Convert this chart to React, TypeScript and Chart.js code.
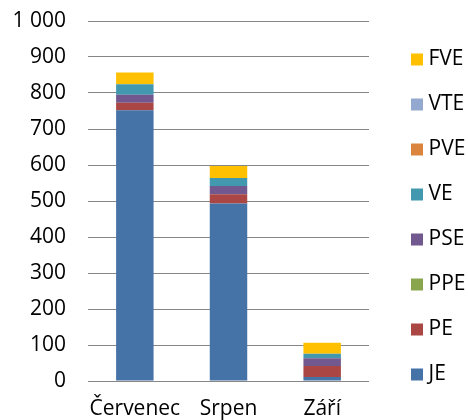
import React, { useEffect, useRef } from "react";
import { Chart, registerables } from "chart.js";

Chart.register(...registerables);

const categories = ["Červenec", "Srpen", "Září"];
const seriesNames = ["JE", "PE", "PPE", "PSE", "VE", "PVE", "VTE", "FVE"];
const JE = [752, 493, 11];
const PE = [21, 26, 31];
const PPE = [0, 0, 0];
const PSE = [22, 23, 21];
const VE = [29, 22, 13];
const PVE = [0, 0, 0];
const VTE = [0, 0, 0];
const FVE = [33, 33, 30];
const seriesValues = [JE, PE, PPE, PSE, VE, PVE, VTE, FVE];
const seriesColors = ["#4572A7", "#AA4643", "#89A54E", "#71588F", "#4198AF", "#DB843D", "#93A9CF", "#FFC000"];
const yMin = 0;
const yMax = 1000;
const yStep = 100;

const FONT = "'Open Sans', 'DejaVu Sans', sans-serif";

export default function App() {
  const ref = useRef<HTMLCanvasElement | null>(null);

  useEffect(() => {
    if (!ref.current) return;
    const chart = new Chart(ref.current, {
      type: "bar",
      data: {
        labels: categories,
        datasets: seriesNames.map((name, i) => ({
          label: name,
          data: seriesValues[i],
          backgroundColor: seriesColors[i],
          borderWidth: 0,
          categoryPercentage: 1,
          barPercentage: 0.4,
        })),
      },
      options: {
        animation: false,
        responsive: false,
        devicePixelRatio: 1,
        layout: { padding: { top: 21, left: 12, right: 0, bottom: 0 } },
        plugins: {
          tooltip: { enabled: false },
          legend: {
            position: "right",
            align: "start",
            reverse: true,
            title: { display: true, text: " ", font: { size: 4, lineHeight: 1 }, padding: 0 },
            labels: {
              usePointStyle: true,
              pointStyle: "rect",
              boxWidth: 2,
              boxHeight: 12,
              padding: 24,
              color: "#000",
              font: { family: FONT, size: 21 },
            },
          },
        },
        scales: {
          x: {
            stacked: true,
            grid: { display: false, drawTicks: false },
            border: { display: false },
            ticks: {
              color: "#000",
              padding: 16,
              maxRotation: 0,
              font: { family: FONT, size: 21, lineHeight: 1.1 },
            },
            afterFit: (s: any) => {
              s.height = 39;
            },
          },
          y: {
            stacked: true,
            min: yMin,
            max: yMax,
            grid: { color: "#868686", lineWidth: 1, drawTicks: false },
            border: { display: false },
            ticks: {
              stepSize: yStep,
              color: "#000",
              padding: 22,
              font: { family: FONT, size: 21 },
              callback: (v: any) => {
                const n = Number(v);
                return n >= 1000 ? `${Math.floor(n / 1000)} ${String(n % 1000).padStart(3, "0")}` : String(n);
              },
            },
            afterFit: (s: any) => {
              s.paddingTop = 0;
              s.paddingBottom = 0;
            },
          },
          y2: {
            type: "linear",
            position: "right",
            display: true,
            grid: { display: false, drawTicks: false },
            border: { display: false },
            ticks: { display: false },
            afterFit: (s: any) => {
              s.width = 23;
            },
          },
        },
      },
    } as any);
    return () => chart.destroy();
  }, []);

  return (
    <div style={{ position: "absolute", left: 0, top: 0, width: 468, height: 420, background: "#fff" }}>
      <canvas ref={ref} width={468} height={420} />
    </div>
  );
}
